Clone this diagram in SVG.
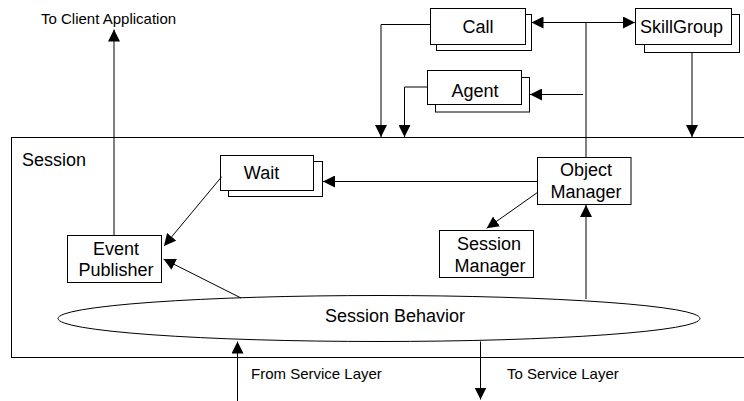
<svg xmlns="http://www.w3.org/2000/svg" width="744" height="401" viewBox="0 0 744 401">
<defs>
<style>
.box{fill:#fff;stroke:#000;stroke-width:1}
.lbl{font-family:"Liberation Sans",Arial,sans-serif;font-size:18px;fill:#000;text-anchor:middle}
.side{font-family:"Liberation Sans",Arial,sans-serif;font-size:15px;fill:#000}
.con{fill:none;stroke:#000;stroke-width:1}
.arr{marker-end:url(#ah)}
</style>
<marker id="ah" markerUnits="userSpaceOnUse" markerWidth="12" markerHeight="12" refX="12" refY="6" orient="auto-start-reverse" viewBox="0 0 12 12">
<path d="M0,0 L12,6 L0,12 z" fill="#000"/>
</marker>
</defs>
<rect width="744" height="401" fill="#fff"/>

<g id="session">
<rect class="box" x="11.5" y="137.5" width="740" height="220"/>
<text class="side" x="22" y="166" style="font-size:18px">Session</text>
</g>

<g id="session-behavior">
<ellipse class="box" cx="379" cy="318.5" rx="321" ry="23"/>
<text class="lbl" x="395" y="322">Session Behavior</text>
</g>

<g id="call">
<rect class="box" x="436.5" y="14.5" width="95" height="36"/>
<rect class="box" x="430.5" y="8.5" width="95" height="36"/>
<text class="lbl" x="478" y="33">Call</text>
</g>

<g id="skillgroup">
<rect class="box" x="644.5" y="14.5" width="95" height="38"/>
<rect class="box" x="635.5" y="8.5" width="96" height="36"/>
<text class="lbl" x="681.5" y="33">SkillGroup</text>
</g>

<g id="agent">
<rect class="box" x="435.5" y="77.5" width="94" height="34.5"/>
<rect class="box" x="427.5" y="70.5" width="94" height="34"/>
<text class="lbl" x="475" y="96.5">Agent</text>
</g>

<g id="wait">
<rect class="box" x="228.5" y="161.5" width="94" height="35"/>
<rect class="box" x="220.5" y="155.5" width="93" height="35"/>
<text class="lbl" x="261.5" y="179">Wait</text>
</g>

<g id="object-manager">
<rect class="box" x="537.5" y="157.5" width="93.5" height="47"/>
<text class="lbl" x="586" y="176">Object</text>
<text class="lbl" x="586" y="198">Manager</text>
</g>

<g id="session-manager">
<rect class="box" x="439.5" y="230.5" width="94" height="47"/>
<text class="lbl" x="489" y="250">Session</text>
<text class="lbl" x="490" y="272">Manager</text>
</g>

<g id="event-publisher">
<rect class="box" x="67.5" y="235.5" width="94" height="47"/>
<text class="lbl" x="116" y="255">Event</text>
<text class="lbl" x="116" y="276">Publisher</text>
</g>

<g id="connectors">
<path class="con arr" d="M430.5,24.5 H381 V137"/>
<path class="con arr" d="M427.5,87 H404.5 V137"/>
<path class="con arr" d="M531.5,22.5 H635" marker-start="url(#ah)"/>
<path class="con" d="M586,22.5 V157.5"/>
<path class="con arr" d="M583,94.5 H530"/>
<path class="con arr" d="M692,52.5 V137"/>
<path class="con arr" d="M537.5,181.5 H323"/>
<path class="con arr" d="M221.7,176.7 L164,246"/>
<path class="con arr" d="M241,298 L163.5,259"/>
<path class="con arr" d="M537.7,192.3 L486.7,228.3"/>
<path class="con arr" d="M586,299 V205"/>
<path class="con arr" d="M114,235.5 V29.5"/>
<path class="con arr" d="M237.5,401 V341.5"/>
<path class="con arr" d="M480.5,341.5 V399.5"/>
</g>

<g id="labels">
<text class="side" x="41" y="24">To Client Application</text>
<text class="side" x="251" y="379">From Service Layer</text>
<text class="side" x="507" y="379">To Service Layer</text>
</g>
</svg>
